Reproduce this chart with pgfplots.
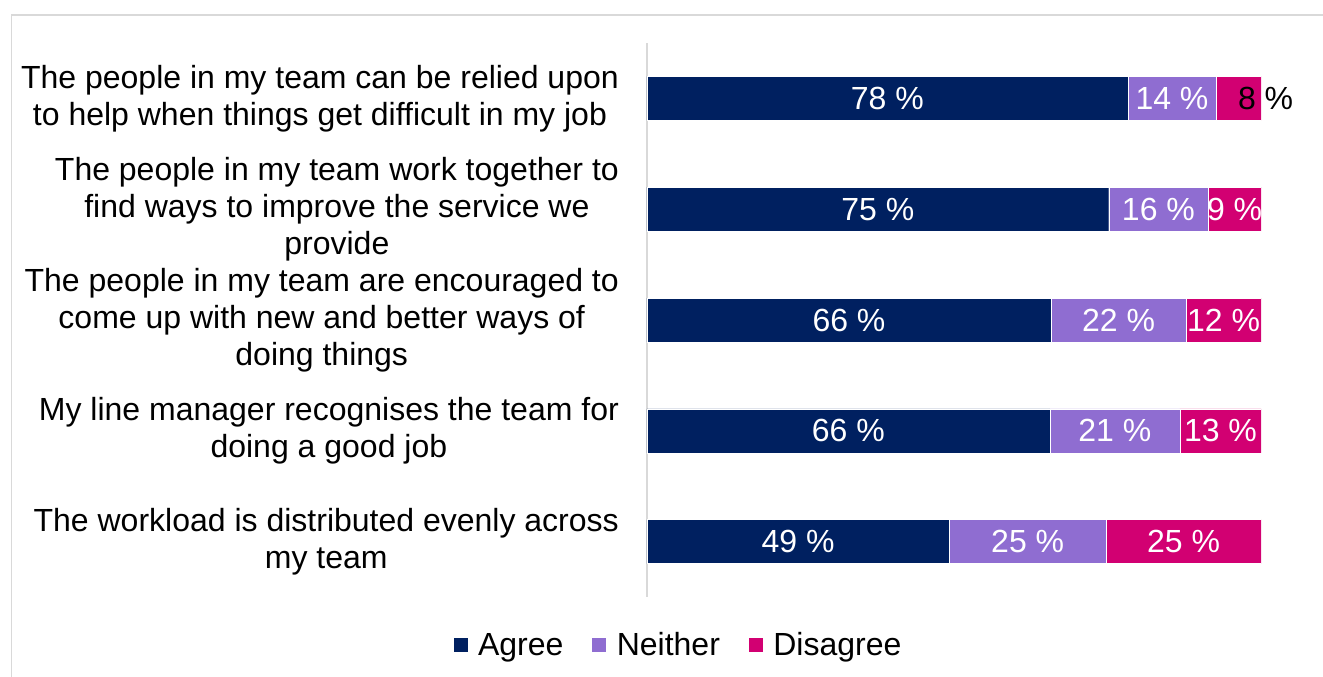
\documentclass[border=0pt]{standalone}
\usepackage{pgfplots}
\pgfplotsset{compat=1.18}
\usepackage{pgfplotstable}
\usepackage{fontspec}
\setmainfont{Liberation Sans}
\definecolor{agree}{HTML}{002060}
\definecolor{neither}{HTML}{8F6DD1}
\definecolor{disagree}{HTML}{D20072}
\definecolor{framegray}{HTML}{D9D9D9}
\newcommand\eightlab{\hspace*{54bp}{\color{black}8 \%}}
\newcommand\bigfont{\fontsize{32bp}{37bp}\selectfont}

\pgfplotstableread[col sep=comma]{
idx,val,lab
0,78.3,78 \%
1,75.2,75 \%
2,65.8,66 \%
3,65.6,66 \%
4,49.2,49 \%
}\agreetab
\pgfplotstableread[col sep=comma]{
idx,val,lab
0,14.4,14 \%
1,16.2,16 \%
2,22.0,22 \%
3,21.2,21 \%
4,25.6,25 \%
}\neithertab
\pgfplotstableread[col sep=comma]{
idx,val,lab
0,7.3,\eightlab
1,8.6,9 \%
2,12.2,12 \%
3,13.2,13 \%
4,25.2,25 \%
}\disagreetab

\begin{document}
\begin{tikzpicture}
\useasboundingbox (0,0) rectangle (1323bp,677bp);
\draw[framegray, line width=1.5bp] (11.5bp,-5bp) -- (11.5bp,662bp) -- (1330bp,662bp);
\begin{axis}[
  at={(647bp,80bp)}, anchor=south west,
  width=614bp, height=554bp, scale only axis,
  xbar stacked, bar width=44bp,
  xmin=0, xmax=100, ymin=-0.5, ymax=4.5, y dir=reverse,
  axis lines*=left,
  x axis line style={draw=none},
  y axis line style={draw=framegray, line width=1.5bp},
  xtick=\empty,
  ytick={0,1,2,3,4},
  yticklabels={
    {The people in my team can be relied upon\\to help when things get difficult in my job},
    {The people in my team work together to\\find ways to improve the service we\\provide},
    {The people in my team are encouraged to\\come up with new and better ways of\\doing things},
    {My line manager recognises the team for\\doing a good job},
    {The workload is distributed evenly across\\my team}},
  major tick length=0pt,
  yticklabel style={align=center, font=\bigfont, inner sep=0pt, xshift=-28bp},
  point meta=explicit symbolic,
  nodes near coords,
  every node near coord/.append style={anchor=center, font=\bigfont, text=white, inner sep=0pt},
  legend style={draw=none, at={(0.0489,-0.0866)}, anchor=center, legend columns=-1,
    font=\bigfont, nodes={inner sep=0pt},
    /tikz/every odd column/.append style={column sep=10bp},
    /tikz/every even column/.append style={column sep=28bp}},
  legend image code/.code={\fill[#1] (0bp,-7.5bp) rectangle (15bp,7.5bp);},
]
\addplot[fill=agree, draw=white, line width=0.4bp] table[x=val, y=idx, meta=lab] {\agreetab};
\addplot[fill=neither, draw=white, line width=0.4bp] table[x=val, y=idx, meta=lab] {\neithertab};
\addplot[fill=disagree, draw=white, line width=0.4bp] table[x=val, y=idx, meta=lab] {\disagreetab};
\legend{Agree, Neither, Disagree}
\end{axis}
\end{tikzpicture}
\end{document}
